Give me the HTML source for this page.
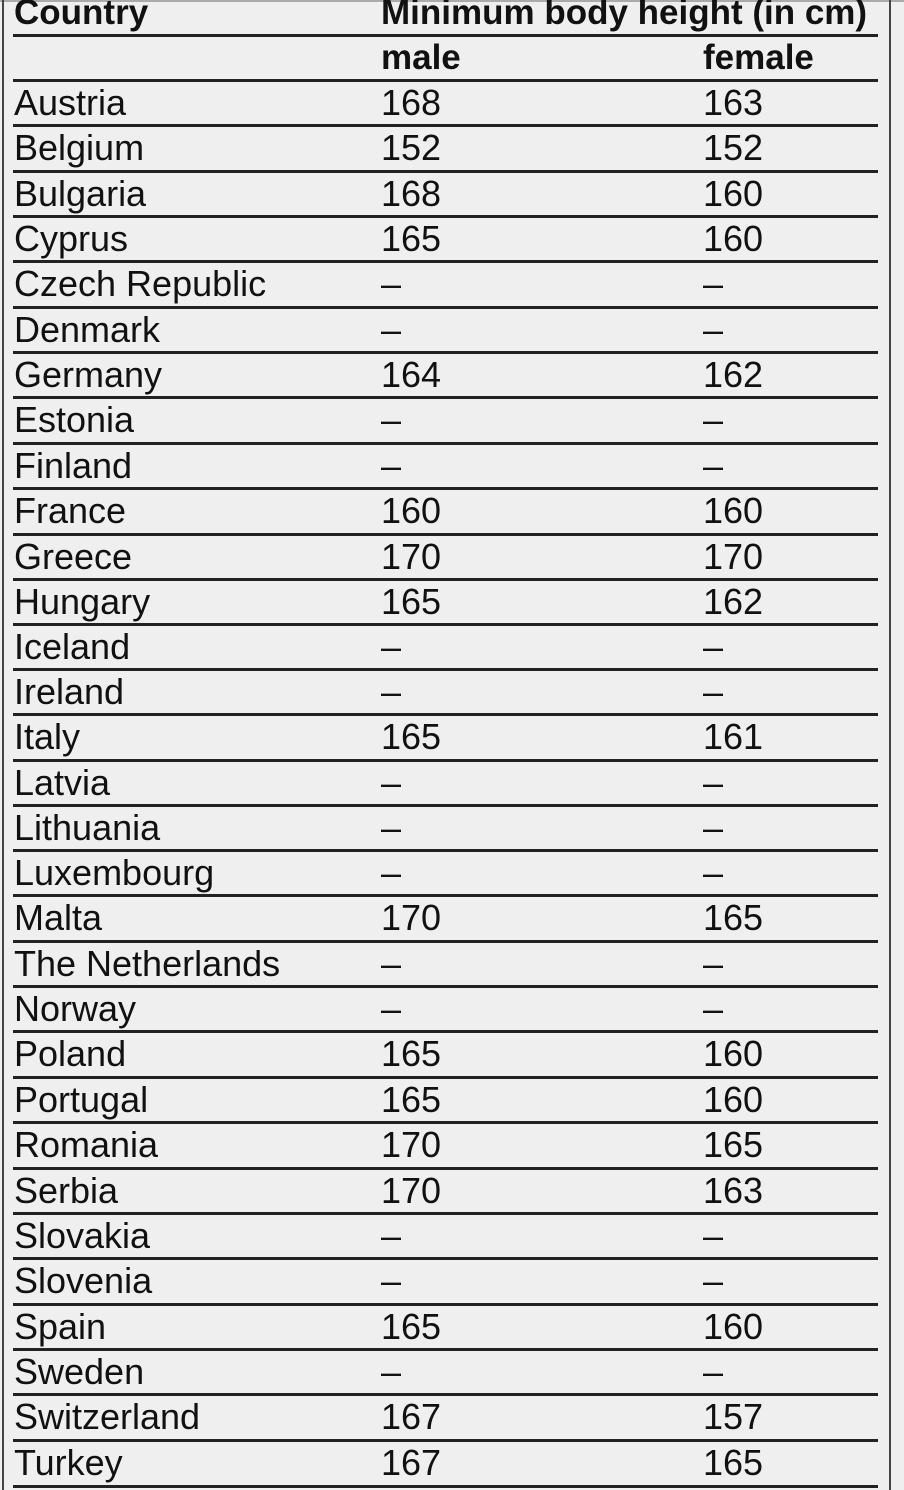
<!DOCTYPE html>
<html><head><meta charset="utf-8"><style>
html,body{margin:0;padding:0;}
body{width:904px;height:1490px;background:#efefef;position:relative;overflow:hidden;font-family:"Liberation Sans",sans-serif;color:#111;}
.l{position:absolute;left:13px;width:865px;height:3px;background:#222;}
.r{position:absolute;left:0;width:904px;height:45px;font-size:36px;line-height:45px;white-space:nowrap;}
.r span{position:absolute;top:0;}
.a{left:14px}.b{left:381px}.c{left:703px}
.h{font-weight:bold;font-size:35px;}
</style></head><body>
<div style="position:absolute;left:0;top:0;width:904px;height:2px;background:#aaa"></div>
<div style="position:absolute;left:2px;top:0;width:2px;height:1490px;background:#444"></div>
<div style="position:absolute;left:889px;top:0;width:2px;height:1490px;background:#444"></div>

<div class="r h" style="top:-10px"><span class="a">Country</span><span class="b">Minimum body height (in cm)</span></div>
<div class="l" style="top:34px"></div>
<div class="r h" style="top:35px"><span class="b">male</span><span class="c">female</span></div>
<div class="l" style="top:79px"></div>

<div class="r" style="top:80px"><span class="a">Austria</span><span class="b">168</span><span class="c">163</span></div><div class="l" style="top:124px"></div>
<div class="r" style="top:125px"><span class="a">Belgium</span><span class="b">152</span><span class="c">152</span></div><div class="l" style="top:170px"></div>
<div class="r" style="top:171px"><span class="a">Bulgaria</span><span class="b">168</span><span class="c">160</span></div><div class="l" style="top:215px"></div>
<div class="r" style="top:216px"><span class="a">Cyprus</span><span class="b">165</span><span class="c">160</span></div><div class="l" style="top:260px"></div>
<div class="r" style="top:261px"><span class="a">Czech Republic</span><span class="b">–</span><span class="c">–</span></div><div class="l" style="top:306px"></div>
<div class="r" style="top:307px"><span class="a">Denmark</span><span class="b">–</span><span class="c">–</span></div><div class="l" style="top:351px"></div>
<div class="r" style="top:352px"><span class="a">Germany</span><span class="b">164</span><span class="c">162</span></div><div class="l" style="top:396px"></div>
<div class="r" style="top:397px"><span class="a">Estonia</span><span class="b">–</span><span class="c">–</span></div><div class="l" style="top:442px"></div>
<div class="r" style="top:443px"><span class="a">Finland</span><span class="b">–</span><span class="c">–</span></div><div class="l" style="top:487px"></div>
<div class="r" style="top:488px"><span class="a">France</span><span class="b">160</span><span class="c">160</span></div><div class="l" style="top:533px"></div>
<div class="r" style="top:534px"><span class="a">Greece</span><span class="b">170</span><span class="c">170</span></div><div class="l" style="top:578px"></div>
<div class="r" style="top:579px"><span class="a">Hungary</span><span class="b">165</span><span class="c">162</span></div><div class="l" style="top:623px"></div>
<div class="r" style="top:624px"><span class="a">Iceland</span><span class="b">–</span><span class="c">–</span></div><div class="l" style="top:668px"></div>
<div class="r" style="top:669px"><span class="a">Ireland</span><span class="b">–</span><span class="c">–</span></div><div class="l" style="top:713px"></div>
<div class="r" style="top:714px"><span class="a">Italy</span><span class="b">165</span><span class="c">161</span></div><div class="l" style="top:759px"></div>
<div class="r" style="top:760px"><span class="a">Latvia</span><span class="b">–</span><span class="c">–</span></div><div class="l" style="top:804px"></div>
<div class="r" style="top:805px"><span class="a">Lithuania</span><span class="b">–</span><span class="c">–</span></div><div class="l" style="top:849px"></div>
<div class="r" style="top:850px"><span class="a">Luxembourg</span><span class="b">–</span><span class="c">–</span></div><div class="l" style="top:894px"></div>
<div class="r" style="top:895px"><span class="a">Malta</span><span class="b">170</span><span class="c">165</span></div><div class="l" style="top:940px"></div>
<div class="r" style="top:941px"><span class="a">The Netherlands</span><span class="b">–</span><span class="c">–</span></div><div class="l" style="top:985px"></div>
<div class="r" style="top:986px"><span class="a">Norway</span><span class="b">–</span><span class="c">–</span></div><div class="l" style="top:1030px"></div>
<div class="r" style="top:1031px"><span class="a">Poland</span><span class="b">165</span><span class="c">160</span></div><div class="l" style="top:1076px"></div>
<div class="r" style="top:1077px"><span class="a">Portugal</span><span class="b">165</span><span class="c">160</span></div><div class="l" style="top:1121px"></div>
<div class="r" style="top:1122px"><span class="a">Romania</span><span class="b">170</span><span class="c">165</span></div><div class="l" style="top:1167px"></div>
<div class="r" style="top:1168px"><span class="a">Serbia</span><span class="b">170</span><span class="c">163</span></div><div class="l" style="top:1212px"></div>
<div class="r" style="top:1213px"><span class="a">Slovakia</span><span class="b">–</span><span class="c">–</span></div><div class="l" style="top:1257px"></div>
<div class="r" style="top:1258px"><span class="a">Slovenia</span><span class="b">–</span><span class="c">–</span></div><div class="l" style="top:1303px"></div>
<div class="r" style="top:1304px"><span class="a">Spain</span><span class="b">165</span><span class="c">160</span></div><div class="l" style="top:1348px"></div>
<div class="r" style="top:1349px"><span class="a">Sweden</span><span class="b">–</span><span class="c">–</span></div><div class="l" style="top:1393px"></div>
<div class="r" style="top:1394px"><span class="a">Switzerland</span><span class="b">167</span><span class="c">157</span></div><div class="l" style="top:1439px"></div>
<div class="r" style="top:1440px"><span class="a">Turkey</span><span class="b">167</span><span class="c">165</span></div><div class="l" style="top:1485px"></div>
</body></html>
